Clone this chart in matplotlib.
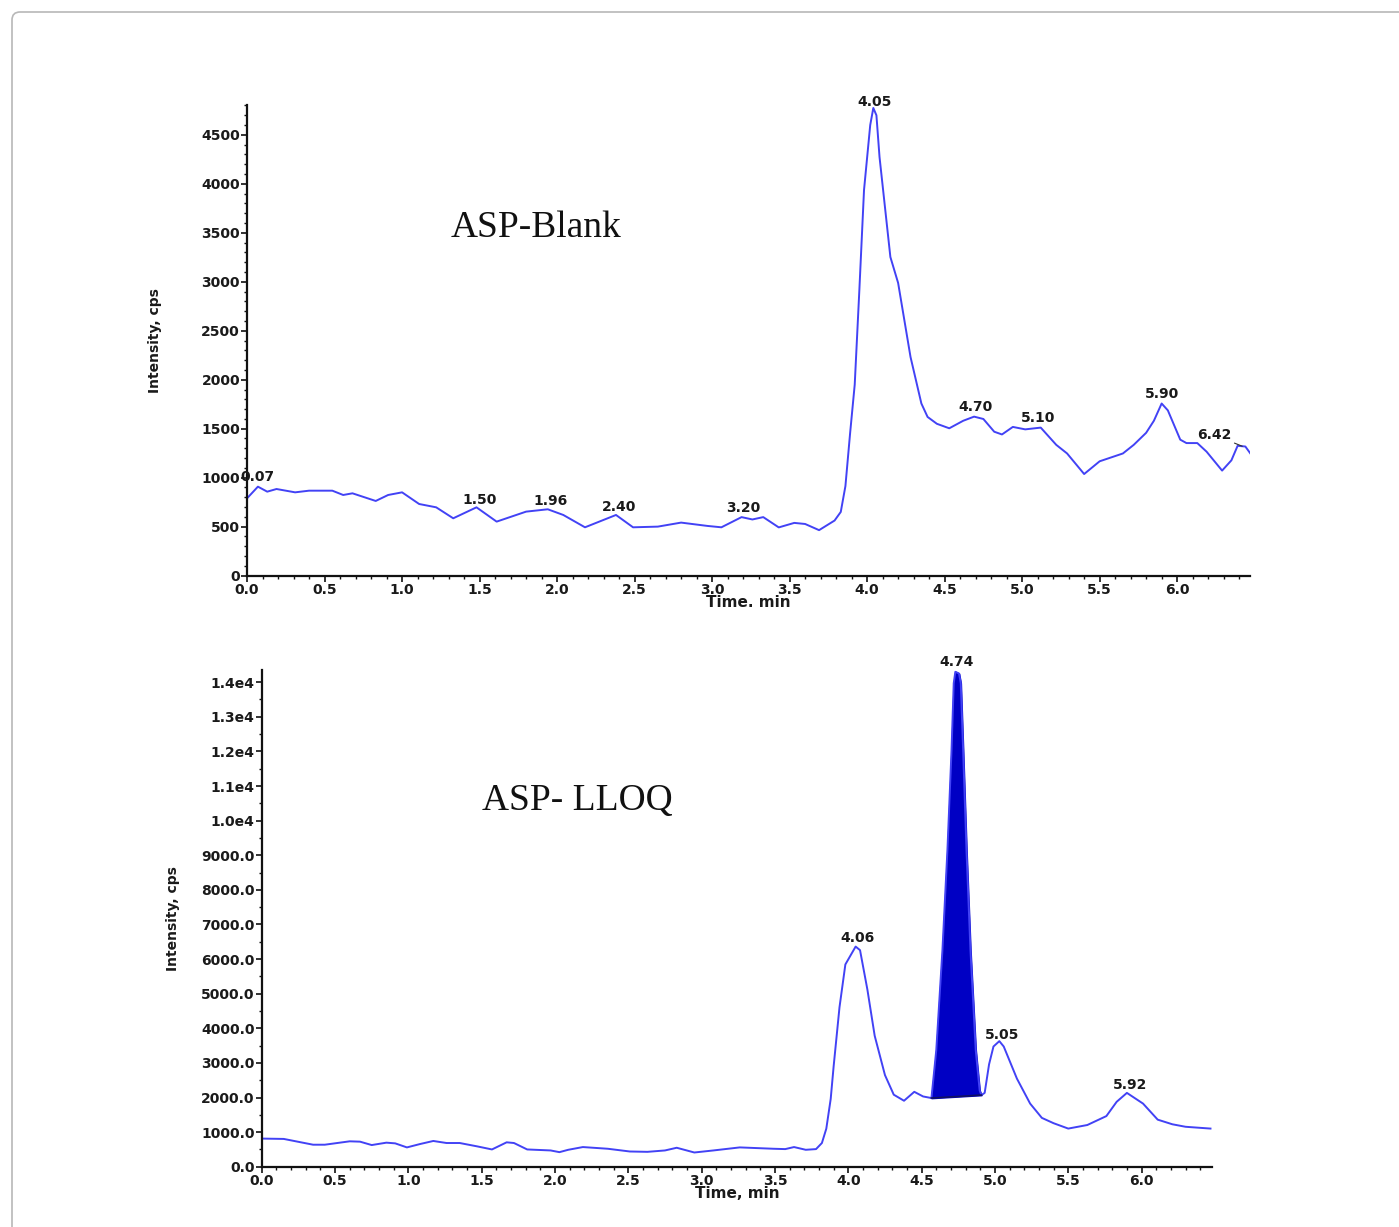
import numpy as np
import matplotlib.pyplot as plt
from matplotlib.patches import FancyBboxPatch
from matplotlib.transforms import IdentityTransform
from matplotlib.ticker import MultipleLocator

# ASP-Blank chromatogram (time in min, intensity in cps)
blank_t = [0.00, 0.07, 0.13, 0.19, 0.31, 0.40, 0.55, 0.62, 0.68, 0.83, 0.91, 1.00,
           1.11, 1.22, 1.33, 1.48, 1.61, 1.80, 1.94, 2.04, 2.18, 2.38, 2.49, 2.65,
           2.80, 2.97, 3.06, 3.19, 3.26, 3.33, 3.43, 3.53, 3.60, 3.69, 3.79, 3.83,
           3.86, 3.89, 3.92, 3.95, 3.98, 4.02, 4.04, 4.06, 4.08, 4.15, 4.20, 4.28,
           4.35, 4.39, 4.45, 4.53, 4.62, 4.69, 4.75, 4.82, 4.87, 4.94, 5.02, 5.12,
           5.22, 5.29, 5.40, 5.50, 5.65, 5.72, 5.80, 5.85, 5.90, 5.94, 6.02, 6.06,
           6.13, 6.19, 6.29, 6.35, 6.39, 6.44, 6.48]
blank_i = [789, 908, 857, 884, 850, 867, 867, 823, 840, 762, 823, 850,
           731, 697, 585, 697, 551, 653, 677, 619, 493, 619, 493, 500,
           541, 507, 493, 597, 573, 597, 492, 538, 527, 464, 562, 650,
           914, 1450, 1950, 2918, 3937, 4600, 4775, 4700, 4274, 3253, 2988, 2232,
           1757, 1620, 1550, 1504, 1581, 1623, 1599, 1469, 1441, 1518, 1493, 1511,
           1335, 1247, 1037, 1167, 1247, 1335, 1458, 1581, 1757, 1687, 1388, 1353,
           1353, 1265, 1072, 1177, 1325, 1318, 1230]
blank_peaks = [0.07, 1.50, 1.96, 2.40, 3.20, 4.05, 4.70, 5.10, 5.90, 6.42]

# ASP-LLOQ chromatogram
lloq_t = [0.00, 0.15, 0.35, 0.43, 0.60, 0.67, 0.75, 0.85, 0.91, 0.99, 1.08, 1.17,
          1.26, 1.35, 1.47, 1.57, 1.67, 1.72, 1.81, 1.97, 2.03, 2.09, 2.19, 2.36,
          2.51, 2.63, 2.75, 2.83, 2.95, 3.08, 3.26, 3.49, 3.57, 3.63, 3.71, 3.78,
          3.82, 3.85, 3.88, 3.90, 3.94, 3.98, 4.05, 4.08, 4.13, 4.18, 4.25, 4.31,
          4.38, 4.45, 4.51, 4.567, 4.60, 4.642, 4.676, 4.704, 4.719, 4.73, 4.755,
          4.767, 4.783, 4.806, 4.833, 4.869, 4.896, 4.908, 4.93, 4.96, 4.99, 5.03,
          5.06, 5.15, 5.24, 5.32, 5.40, 5.50, 5.63, 5.76, 5.83, 5.90, 6.01, 6.11,
          6.21, 6.30, 6.47]
lloq_i = [814, 804, 637, 637, 735, 725, 627, 696, 676, 559, 657, 745,
          686, 686, 588, 500, 706, 686, 500, 471, 422, 490, 569, 520,
          441, 431, 471, 549, 412, 471, 559, 520, 510, 569, 490, 510,
          686, 1100, 1960, 2900, 4608, 5845, 6361, 6258, 5124, 3784, 2649, 2082,
          1907, 2165, 2031, 1985, 3370, 6260, 9150, 12035, 13970, 14300, 14250,
          13970, 12035, 9150, 6260, 3370, 2200, 2071, 2134, 2959, 3474, 3629,
          3474, 2546, 1825, 1412, 1258, 1103, 1206, 1464, 1876, 2134, 1825, 1361,
          1227, 1155, 1103]
lloq_peaks = [4.06, 4.74, 5.05, 5.92]
lloq_fill_start = 4.567
lloq_fill_end = 4.908

xticks = [0.0, 0.5, 1.0, 1.5, 2.0, 2.5, 3.0, 3.5, 4.0, 4.5, 5.0, 5.5, 6.0]
xticklabels = ['0.0', '0.5', '1.0', '1.5', '2.0', '2.5', '3.0', '3.5', '4.0',
               '4.5', '5.0', '5.5', '6.0']
blank_yticks = [0, 500, 1000, 1500, 2000, 2500, 3000, 3500, 4000, 4500]
blank_yticklabels = ['0', '500', '1000', '1500', '2000', '2500', '3000', '3500',
                     '4000', '4500']
lloq_yticks = [0, 1000, 2000, 3000, 4000, 5000, 6000, 7000, 8000, 9000,
               10000, 11000, 12000, 13000, 14000]
lloq_yticklabels = ['0.0', '1000.0', '2000.0', '3000.0', '4000.0', '5000.0',
                    '6000.0', '7000.0', '8000.0', '9000.0', '1.0e4', '1.1e4',
                    '1.2e4', '1.3e4', '1.4e4']

line_color = '#4242f5'
fill_color = '#0000c4'
text_color = '#1a1a1a'
tick_font = dict(family='DejaVu Sans', weight='bold', size=10, color=text_color)

fig = plt.figure(figsize=(13.99, 12.27), dpi=100)

# light rounded frame round the figure
frame = FancyBboxPatch((12, -60), 1500, 1275, boxstyle="round,pad=0,rounding_size=8",
                       transform=IdentityTransform(), fill=False,
                       edgecolor='#b8b8b8', linewidth=1.2)
fig.add_artist(frame)

ax1 = fig.add_axes([0.1766, 0.5309, 0.7169, 0.3836])
ax2 = fig.add_axes([0.1871, 0.0491, 0.6792, 0.4048])


def style_axis(ax, yticks, yticklabels, yminor, xmax, ymax):
    for s in ['top', 'right']:
        ax.spines[s].set_visible(False)
    for s in ['left', 'bottom']:
        ax.spines[s].set_linewidth(1.6)
        ax.spines[s].set_color('#111111')
    ax.set_xlim(0, xmax)
    ax.set_ylim(0, ymax)
    ax.set_xticks(xticks)
    ax.set_xticklabels(xticklabels, fontdict=tick_font)
    ax.set_yticks(yticks)
    ax.set_yticklabels(yticklabels, fontdict=tick_font)
    ax.xaxis.set_minor_locator(MultipleLocator(0.1))
    ax.yaxis.set_minor_locator(MultipleLocator(yminor))
    ax.tick_params(which='major', direction='out', length=4, width=1.2, pad=1,
                   color='#111111')
    ax.tick_params(which='minor', direction='out', length=2.5, width=1.0,
                   color='#111111')


style_axis(ax1, blank_yticks, blank_yticklabels, 100, 6.47, 4806)
style_axis(ax2, lloq_yticks, lloq_yticklabels, 500, 6.48, 14350)

# top: blank
ax1.plot(blank_t, blank_i, color=line_color, lw=1.4)
for rt in blank_peaks:
    yv = np.interp(rt, blank_t, blank_i)
    if rt == 6.42:
        ax1.annotate(f'{rt:.2f}', xy=(rt, yv), xytext=(-20, 3),
                     textcoords='offset points', ha='center', va='bottom',
                     fontsize=10, fontweight='bold', color=text_color,
                     arrowprops=dict(arrowstyle='-', lw=0.8, color='#333333',
                                     shrinkA=0, shrinkB=0))
    else:
        ax1.annotate(f'{rt:.2f}', xy=(rt, yv), xytext=(0, 2),
                     textcoords='offset points', ha='center', va='bottom',
                     fontsize=10, fontweight='bold', color=text_color)
ax1.set_xlabel('Time. min', fontsize=11, fontweight='bold', color=text_color,
               labelpad=-1)
ax1.set_ylabel('Intensity, cps', fontsize=10, fontweight='bold', color=text_color,
               labelpad=28)
ax1.text(1.31, 3550, 'ASP-Blank', family='Liberation Serif', fontsize=27,
         ha='left', va='center', color='#111111')

# bottom: LLOQ
t2 = np.array(lloq_t)
i2 = np.array(lloq_i)
ax2.plot(t2, i2, color=line_color, lw=1.4)
mask = (t2 >= lloq_fill_start) & (t2 <= lloq_fill_end)
base = np.interp(t2[mask], [lloq_fill_start, lloq_fill_end],
                 [np.interp(lloq_fill_start, t2, i2), np.interp(lloq_fill_end, t2, i2)])
ax2.fill_between(t2[mask], i2[mask], base, color=fill_color, lw=1.2,
                 edgecolor=fill_color)
ax2.plot([lloq_fill_start, lloq_fill_end], [base[0], base[-1]], color='#101060', lw=1.2)
for rt in lloq_peaks:
    yv = np.interp(rt, t2, i2)
    if rt == 4.74:
        yv = i2.max()
    ax2.annotate(f'{rt:.2f}', xy=(rt, yv), xytext=(0, 2),
                 textcoords='offset points', ha='center', va='bottom',
                 fontsize=10, fontweight='bold', color=text_color)
ax2.set_xlabel('Time, min', fontsize=11, fontweight='bold', color=text_color,
               labelpad=-1)
ax2.set_ylabel('Intensity, cps', fontsize=10, fontweight='bold', color=text_color,
               labelpad=15)
ax2.text(1.50, 10563, 'ASP- LLOQ', family='Liberation Serif', fontsize=27,
         ha='left', va='center', color='#111111')

fig.savefig('out.png', dpi=100)
